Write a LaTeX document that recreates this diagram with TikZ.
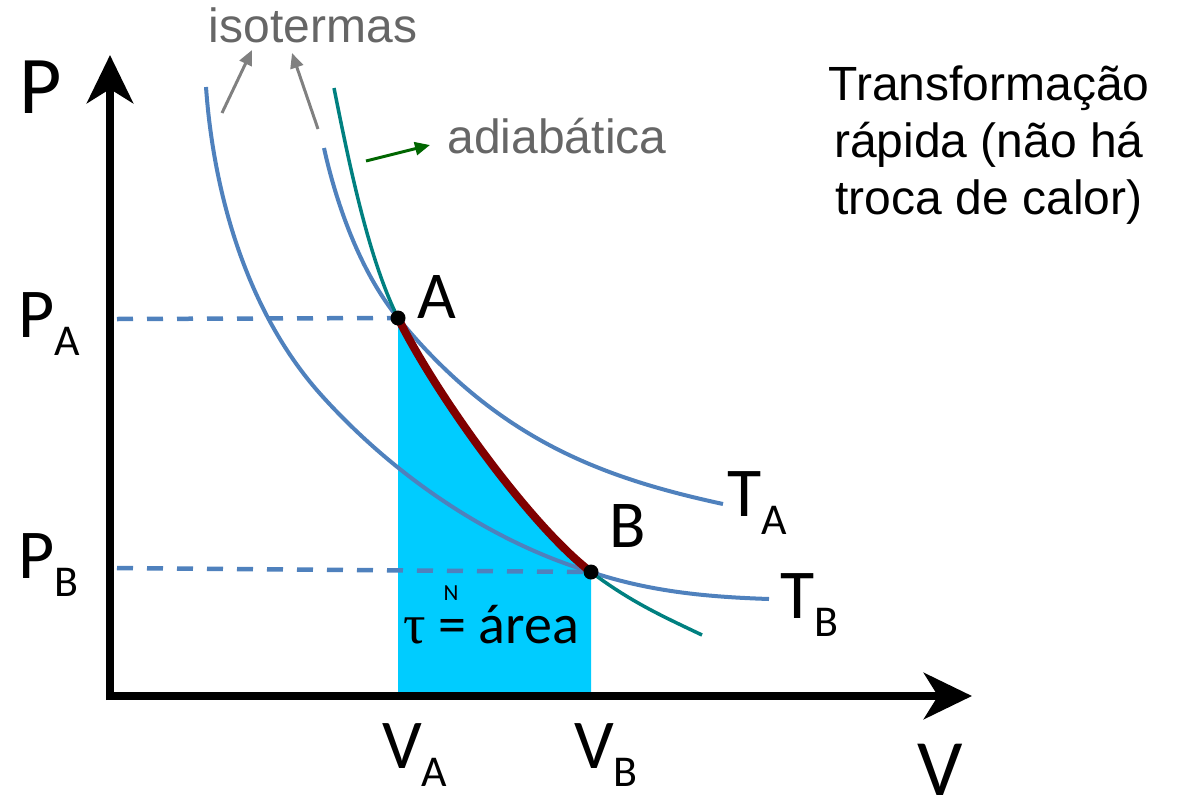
\documentclass[tikz,border=0pt]{standalone}
\usepackage{fontspec}
\setmainfont{Carlito}
\newfontfamily\notefont{Liberation Sans}
\newfontfamily\greekfont{Liberation Serif}
\usetikzlibrary{arrows.meta}
\definecolor{iso}{RGB}{79, 129, 189}
\definecolor{adb}{RGB}{0, 128, 128}
\definecolor{wine}{RGB}{128, 0, 0}
\definecolor{work}{RGB}{0, 204, 255}
\definecolor{note}{RGB}{102, 102, 102}
\definecolor{hint}{RGB}{0, 102, 0}
\newcommand{\withsub}[2]{#1\raisebox{-18pt}{\fontsize{44}{44}\selectfont #2}}

\begin{document}
\begin{tikzpicture}[
    x=1pt, y=-1pt,
    axis/.style={line width=8.5pt, -{Stealth[length=48pt, width=46pt, inset=14pt]}},
    guide/.style={iso, line width=4.5pt, dash pattern=on 16pt off 14pt},
    isoline/.style={iso, line width=4pt},
    adline/.style={adb, line width=3.5pt},
    pointer/.style={line width=3pt, -{Triangle[length=15pt, width=13pt]}},
    big/.style={inner sep=0pt, anchor=base west, font=\fontsize{70}{70}\selectfont},
    lbl/.style={inner sep=0pt, anchor=base, font=\notefont\fontsize{48}{57}\selectfont, text=note}
  ]
  \useasboundingbox (0,0) rectangle (1180,803);
  \coordinate (O) at (110,696);
  \coordinate (A) at (398,318);
  \coordinate (B) at (591,572);

  % work done under the adiabatic
  \fill[work] (398,692) -- (A) .. controls (438,398) and (531,526) .. (B) -- (591,692) -- cycle;

  \draw[guide] (117,319) -- (A);
  \draw[guide] (117,568) -- (B);

  % isotherms
  \draw[isoline] (206,87) .. controls (214,200) and (250,317) .. (323,397)
    .. controls (403,485) and (501,545) .. (B)
    .. controls (651,592) and (709,597) .. (769,599);
  \draw[isoline] (324,148) .. controls (335,198) and (358,269) .. (A)
    .. controls (498,440) and (603,478) .. (723,504);

  % adiabatic
  \draw[adline] (334,88) .. controls (348,158) and (368,258) .. (A)
    .. controls (438,398) and (531,526) .. (B)
    .. controls (631,602) and (662,616) .. (702,635);
  \draw[wine, line width=8pt] (A) .. controls (438,398) and (531,526) .. (B);

  \fill (A) circle[radius=7.5pt];
  \fill (B) circle[radius=7.5pt];

  \draw[axis] (110,700) -- (110,55);
  \draw[axis] (106,696) -- (972,696);

  \node[big, font=\fontsize{82}{82}\selectfont] (Plbl) at (19,113) {P};
  \node[big, font=\fontsize{80}{80}\selectfont] (Vlbl) at (917,795) {V};
  \node[big] (PA) at (18,337) {\withsub{P}{A}};
  \node[big] (PB) at (18,578) {\withsub{P}{B}};
  \node[big] (VA) at (382,768) {\withsub{V}{A}};
  \node[big] (VB) at (574,768) {\withsub{V}{B}};
  \node[big] (TA) at (727,516) {\withsub{T}{A}};
  \node[big] (TB) at (780,618) {\withsub{T}{B}};
  \node[big, font=\fontsize{67}{67}\selectfont] (Albl) at (417,318) {A};
  \node[big, font=\fontsize{67}{67}\selectfont] (Blbl) at (609,547) {B};

  \node[inner sep=0pt, anchor=base, font=\fontsize{56}{56}\selectfont] (area) at (491,643) {{\greekfont τ} = área};
  \node[inner sep=0pt, anchor=base, font=\fontsize{23}{23}\selectfont] (Nsup) at (451,600) {N};

  \node[lbl] (iso) at (313,42) {isotermas};
  \node[lbl] (adi) at (557,153) {adiabática};
  \node[lbl, text=black, anchor=north, align=center] (desc) at (989,66) {Transformação\\rápida (não há\\troca de calor)};

  \coordinate (isoTailL) at (222,113);
  \coordinate (isoHeadL) at (252,50);
  \coordinate (isoTailR) at (318,129);
  \coordinate (isoHeadR) at (292,53);
  \coordinate (adiTail) at (366,161);
  \coordinate (adiHead) at (430,145);
  \draw[pointer, gray] (isoTailL) -- (isoHeadL);
  \draw[pointer, gray] (isoTailR) -- (isoHeadR);
  \draw[pointer, hint] (adiTail) -- (adiHead);
\end{tikzpicture}
\end{document}
